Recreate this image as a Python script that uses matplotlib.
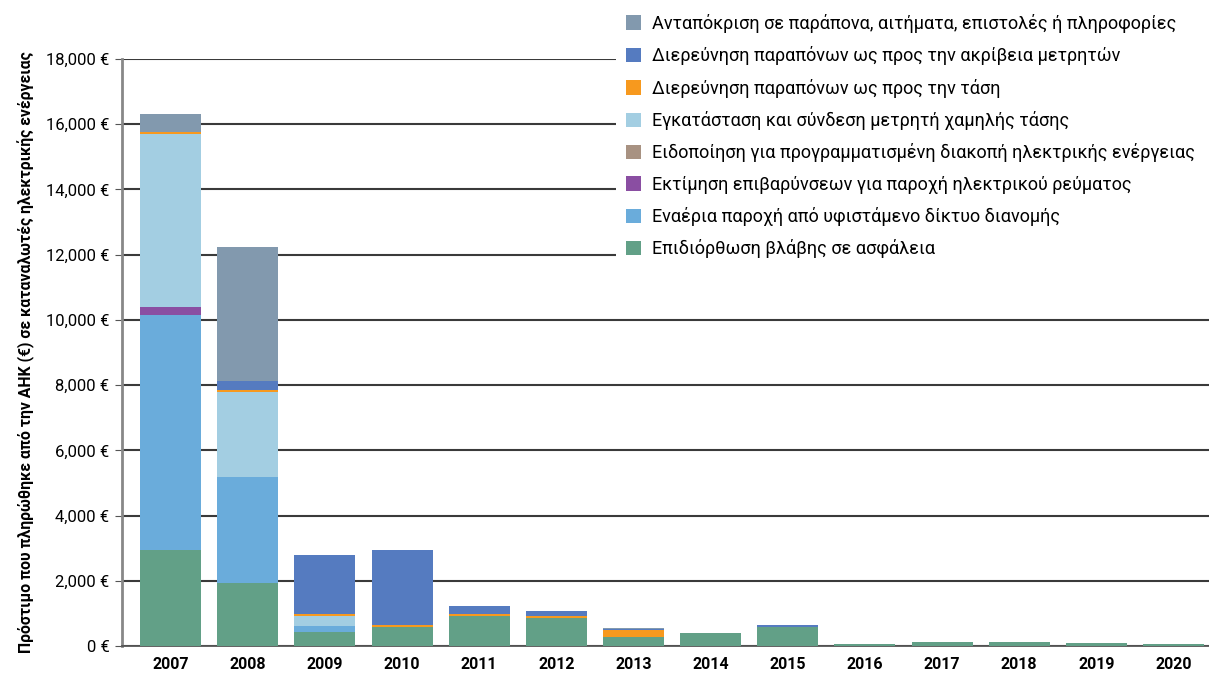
import matplotlib.pyplot as plt
import numpy as np
from matplotlib.ticker import FuncFormatter

plt.rcParams['font.family'] = ['Roboto', 'DejaVu Sans']

years = ['2007', '2008', '2009', '2010', '2011', '2012', '2013',
         '2014', '2015', '2016', '2017', '2018', '2019', '2020']

# values in euro (stack order bottom -> top)
epidiorthosi = [2950, 1930, 430, 570, 920, 860, 280, 400, 570, 70, 130, 130, 100, 75]
enaeria = [7200, 3250, 180, 0, 0, 0, 0, 0, 0, 0, 0, 0, 0, 0]
ektimisi = [250, 0, 0, 0, 0, 0, 0, 0, 0, 0, 0, 0, 0, 0]
eidopoiisi = [0, 0, 0, 0, 0, 0, 0, 0, 0, 0, 0, 0, 0, 0]
egkatastasi = [5300, 2610, 310, 0, 0, 0, 0, 0, 0, 0, 0, 0, 0, 0]
tasi = [70, 60, 60, 70, 60, 60, 220, 0, 25, 0, 0, 0, 0, 0]
akriveia = [0, 280, 1810, 2300, 245, 155, 30, 0, 50, 0, 0, 0, 0, 0]
antapokrisi = [530, 4110, 0, 0, 0, 0, 20, 0, 0, 0, 0, 0, 0, 0]

labels = ['Επιδιόρθωση βλάβης σε ασφάλεια',
          'Εναέρια παροχή από υφιστάμενο δίκτυο διανομής',
          'Εκτίμηση επιβαρύνσεων για παροχή ηλεκτρικού ρεύματος',
          'Ειδοποίηση για προγραμματισμένη διακοπή ηλεκτρικής ενέργειας',
          'Εγκατάσταση και σύνδεση μετρητή χαμηλής τάσης',
          'Διερεύνηση παραπόνων ως προς την τάση',
          'Διερεύνηση παραπόνων ως προς την ακρίβεια μετρητών',
          'Ανταπόκριση σε παράπονα, αιτήματα, επιστολές ή πληροφορίες']
series = [epidiorthosi, enaeria, ektimisi, eidopoiisi, egkatastasi, tasi, akriveia, antapokrisi]
colors = ['#62A087', '#6AACDB', '#8A4EA2', '#A89282', '#A3CEE2', '#F7991E', '#557BC0', '#8299AE']

fig = plt.figure(figsize=(12.09, 6.77), dpi=100)
ax = fig.add_axes([122/1209, 31/677, 1 - 122/1209, 587/677])

x = np.arange(len(years))
bottom = np.zeros(len(years))
handles = []
for vals, lab, col in zip(series, labels, colors):
    vals = np.array(vals, dtype=float)
    b = ax.bar(x, vals, 0.79, bottom=bottom, color=col, label=lab, zorder=3)
    handles.append(b)
    bottom += vals

ax.set_xlim(-0.63, 13.46)
ax.set_ylim(0, 18000)
ax.set_yticks(np.arange(0, 18001, 2000))
ax.yaxis.set_major_formatter(FuncFormatter(lambda v, p: '{:,.0f} €'.format(v)))
ax.set_xticks(x)
ax.set_xticklabels(years, fontweight='bold', fontsize=11.5)
ax.tick_params(axis='y', labelsize=12, length=5, color='#555555', pad=4)
ax.tick_params(axis='x', length=0, pad=8)

ax.grid(axis='y', color='#3a3a3a', linewidth=1.5, zorder=0)
for s in ['top', 'right']:
    ax.spines[s].set_visible(False)
ax.spines['left'].set_color('#888888')
ax.spines['left'].set_linewidth(2)
ax.spines['bottom'].set_color('#555555')
ax.spines['bottom'].set_linewidth(1.3)

ax.set_ylabel('Πρόστιμο που πληρώθηκε από την ΑΗΚ (€) σε καταναλωτές ηλεκτρικής ενέργειας',
              fontweight='bold', fontsize=11.3, labelpad=8)

leg = ax.legend(handles[::-1], labels[::-1], loc='upper left', mode='expand',
                bbox_to_anchor=(616/1209, 0, 1 - 616/1209 + 0.02, 1 - 4/677),
                bbox_transform=fig.transFigure,
                frameon=True, facecolor='white', edgecolor='none', framealpha=1,
                fancybox=False, borderpad=0.55,
                fontsize=13, handlelength=0.85, handleheight=0.85,
                handletextpad=0.6, labelspacing=0.74, borderaxespad=0.0)
leg.set_zorder(5)

plt.savefig('out.png', dpi=100)
